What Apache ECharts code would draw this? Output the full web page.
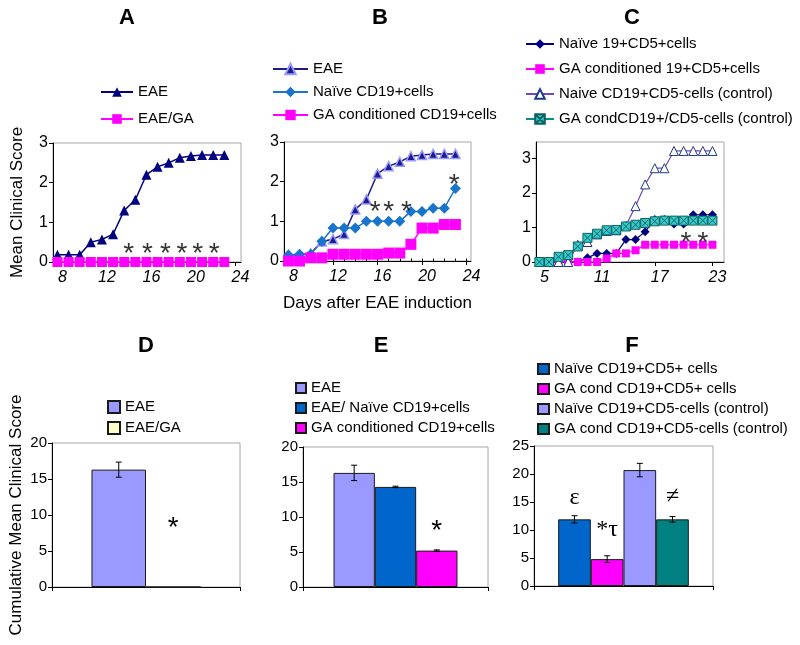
<!DOCTYPE html>
<html><head><meta charset="utf-8">
<script src="https://cdn.jsdelivr.net/npm/echarts@6/dist/echarts.min.js"></script>
<style>html,body{margin:0;padding:0;background:#fff}#c{width:800px;height:645px}</style>
</head><body><div id="c"></div>
<script>
const FONT = '"Liberation Sans", Arial, Helvetica, sans-serif';
const SERIF = '"Liberation Serif", "Times New Roman", serif';

// ---- Panel A ----
const daysA = [8,9,10,11,12,13,14,15,16,17,18,19,20,21,22,23];
const eaeA = [0.18,0.18,0.18,0.5,0.57,0.7,1.3,1.57,2.2,2.4,2.5,2.63,2.67,2.7,2.7,2.7];
const eaeGaA = [0,0,0,0,0,0,0,0,0,0,0,0,0,0,0,0];
const starsA = [[14.4,0.38],[16.1,0.38],[17.7,0.38],[19.2,0.38],[20.6,0.38],[22.1,0.38]];
const xTicksA = [8,12,16,20,24];
const yTicksLine = [0,1,2,3];

// ---- Panel B ----
const daysB = [8,9,10,11,12,13,14,15,16,17,18,19,20,21,22,23];
const eaeB = [0.15,0.15,0.19,0.49,0.55,0.68,1.3,1.55,2.2,2.39,2.5,2.64,2.67,2.7,2.7,2.7];
const naiveB = [0.15,0.17,0.17,0.5,0.83,0.83,0.83,1.0,1.0,1.0,1.0,1.25,1.25,1.33,1.33,1.83];
const gaB = [0,0,0.08,0.08,0.17,0.17,0.17,0.17,0.17,0.2,0.2,0.42,0.83,0.83,0.92,0.92];
const starsB = [[15.8,1.4],[17.0,1.4],[18.6,1.4],[22.9,2.08]];
const xTicksB = [8,12,16,20,24];
const xMinorB = [8,9,10,11,12,13,14,15,16,17,18,19,20,21,22,23,24];

// ---- Panel C ----
const daysC = [5,6,7,8,9,10,11,12,13,14,15,16,17,18,19,20,21,22,23];
const naivePosC = [0,0,0,0,0,0.12,0.25,0.25,0.25,0.65,0.65,0.88,1.23,1.23,1.1,1.1,1.37,1.37,1.37];
const gaPosC = [0,0,0,0,0,0,0,0.1,0.25,0.25,0.34,0.5,0.5,0.5,0.5,0.5,0.5,0.5,0.5];
const naiveNegC = [0,0,0,0,0.5,0.58,0.8,0.9,0.92,1.05,1.62,2.25,2.72,2.72,3.22,3.22,3.22,3.22,3.22];
const gaNegC = [0,0,0.15,0.2,0.45,0.7,0.82,0.92,0.93,1.03,1.08,1.13,1.18,1.2,1.2,1.2,1.2,1.2,1.2];
const starsC = [[20.25,0.75],[22.0,0.75]];
const xTicksC = [5,11,17,23];

// ---- Panel D ----
const namesD = ['EAE','EAE/GA'];
const valsD = [16.3,0];
const errD = [1.05,0];
const annotD = [{bar:1, y:8.2, text:'*'}];

// ---- Panel E ----
const namesE = ['EAE','EAE/ Naïve CD19+cells','GA conditioned CD19+cells'];
const valsE = [16.3,14.3,5.2];
const errE = [1.1,0.1,0.1];
const annotE = [{bar:2, y:7.9, text:'*'}];

// ---- Panel F ----
const namesF = ['Naïve CD19+CD5+ cells','GA cond CD19+CD5+ cells','Naïve CD19+CD5-cells (control)','GA cond CD19+CD5-cells (control)'];
const valsF = [11.9,4.8,20.7,11.9];
const errF = [0.65,0.6,1.2,0.5];
const annotF = [{bar:0, y:15.7, text:'ε'},{bar:1, y:10.0, text:'*τ'},{bar:3, y:16.0, text:'≠'}];

const yTicksBarDE = [0,5,10,15,20];
const yTicksBarF = [0,5,10,15,20,25];

const chart = echarts.init(document.getElementById('c'), null, {renderer:'canvas'});

function pairs(xs, ys){ return xs.map((x,i)=>[x, ys[i]]); }
const strip = n => n.slice(2);

function lineX(grid, min, max, ticks){
  return {type:'value', gridIndex:grid, min, max,
    axisLine:{show:true, onZero:false, lineStyle:{color:'#000', width:1}},
    axisTick:{show:true, length:4, customValues:ticks, lineStyle:{color:'#000'}},
    axisLabel:{customValues:ticks, fontSize:16, fontStyle:'italic', color:'#000', margin:8, fontFamily:FONT, padding:[0,0,0,10]},
    splitLine:{show:false}};
}
function valY(grid, min, max, ticks, fs, name){
  const o = {type:'value', gridIndex:grid, min, max,
    axisLine:{show:true, onZero:false, lineStyle:{color:'#000', width:1}},
    axisTick:{show:true, length:4, customValues:ticks, lineStyle:{color:'#000'}},
    axisLabel:{customValues:ticks, fontSize:fs, color:'#000', margin:5, fontFamily:FONT},
    splitLine:{show:false}};
  if (name){ o.name = name; o.nameLocation='middle'; o.nameGap = 27;
    o.nameTextStyle = {fontSize:17, color:'#000', fontFamily:FONT}; }
  return o;
}
function catX(grid){
  return {type:'category', gridIndex:grid, data:[''],
    axisLine:{show:true, lineStyle:{color:'#000'}},
    axisTick:{show:true, length:4, lineStyle:{color:'#000'}},
    axisLabel:{show:false}, splitLine:{show:false}};
}
function lineSeries(name, xi, yi, xs, ys, color, symbol, size, itemStyle, lw){
  return {type:'line', name, xAxisIndex:xi, yAxisIndex:yi, data:pairs(xs, ys),
    symbol, symbolSize:size, showAllSymbol:true, clip:false,
    lineStyle:{color, width:lw||1.5}, itemStyle:Object.assign({color}, itemStyle||{})};
}
function starSeries(xi, yi, data){
  return {type:'scatter', xAxisIndex:xi, yAxisIndex:yi, data, symbolSize:1, silent:true,
    itemStyle:{color:'rgba(0,0,0,0)'}, z:10,
    label:{show:true, formatter:'*', position:'inside', fontSize:28, color:'#000', offset:[0,7], fontFamily:FONT}};
}
function barSeries(prefix, xi, yi, names, vals, colors, gap){
  return names.map((n,k)=>({type:'bar', name:prefix+'|'+n, xAxisIndex:xi, yAxisIndex:yi,
    data:[vals[k]], barGap:'0%', barCategoryGap:(gap*100)+'%',
    itemStyle:{color:colors[k], borderColor:'#1a1a1a', borderWidth:1}}));
}
function barGeom(api, n, gap, k){
  const band = api.size([1,0])[0];
  const avail = band*(1-gap);
  const w = avail/n;
  const cx = api.coord([0,0])[0];
  return cx - avail/2 + w*(k+0.5);
}
function errSeries(xi, yi, vals, errs, gap){
  const n = vals.length;
  return {type:'custom', xAxisIndex:xi, yAxisIndex:yi, silent:true, z:6,
    data: vals.map((v,k)=>[0, v, errs[k], k]),
    renderItem:(params, api)=>{
      const v = api.value(1), e = api.value(2), k = api.value(3);
      if (!e) return null;
      const x = barGeom(api, n, gap, k);
      const yt = api.coord([0, v+e])[1], yb = api.coord([0, v-e])[1];
      const st = {stroke:'#000', lineWidth:1};
      return {type:'group', children:[
        {type:'line', shape:{x1:x, y1:yt, x2:x, y2:yb}, style:st},
        {type:'line', shape:{x1:x-3, y1:yt, x2:x+3, y2:yt}, style:st},
        {type:'line', shape:{x1:x-3, y1:yb, x2:x+3, y2:yb}, style:st}]};
    }};
}
function annotSeries(xi, yi, n, gap, annots, font){
  return {type:'custom', xAxisIndex:xi, yAxisIndex:yi, silent:true, z:7,
    data: annots.map(a=>[0, a.y, a.bar]),
    renderItem:(params, api)=>{
      const a = annots[params.dataIndex];
      const x = barGeom(api, n, gap, api.value(2));
      const y = api.coord([0, api.value(1)])[1];
      return {type:'text', x, y, style:{text:a.text, font, fill:'#000', textAlign:'center', textVerticalAlign:'middle'}};
    }};
}

const gapD = 0.42, gapE = 0.33, gapF = 0.27;
const boxStyle = {show:true, borderColor:'#a6a6a6', borderWidth:1, backgroundColor:'#fff'};

const legendText = {fontSize:15, lineHeight:16, color:'#000', fontFamily:FONT};
function legend(left, top, data, iw, ih, gap, icon){
  const o = {orient:'vertical', left, top, data, itemWidth:iw, itemHeight:ih, itemGap:gap,
    formatter:strip, textStyle:legendText, selectedMode:false, padding:0};
  if (icon) o.icon = icon;
  return o;
}

const option = {
  animation:false,
  textStyle:{fontFamily:FONT},
  grid:[
    Object.assign({left:53, top:143, width:188, height:119}, boxStyle),
    Object.assign({left:284, top:142, width:187, height:119}, boxStyle),
    Object.assign({left:536, top:142, width:188, height:120}, boxStyle),
    Object.assign({left:52, top:443, width:188, height:144}, boxStyle),
    Object.assign({left:303, top:447, width:185, height:140}, boxStyle),
    Object.assign({left:534, top:446, width:179, height:140}, boxStyle)
  ],
  xAxis:[
    lineX(0, 7.6, 24.5, xTicksA),
    Object.assign(lineX(1, 7.6, 24.4, xTicksB), {name:'Days after EAE induction', nameLocation:'middle', nameGap:34,
      nameTextStyle:{fontSize:17, color:'#000', fontFamily:FONT}}),
    {type:'value', gridIndex:1, min:7.6, max:24.4, axisLine:{show:false},
      axisTick:{show:true, length:2.5, customValues:xMinorB, lineStyle:{color:'#000'}},
      axisLabel:{show:false}, splitLine:{show:false}},
    lineX(2, 4.65, 24.2, xTicksC),
    catX(3), catX(4), catX(5)
  ],
  yAxis:[
    valY(0, 0, 3, yTicksLine, 16, 'Mean Clinical Score'),
    valY(1, 0, 3, yTicksLine, 16),
    valY(2, 0, 3.48, yTicksLine, 16),
    valY(3, 0, 20, yTicksBarDE, 15, 'Cumulative Mean Clinical Score'),
    valY(4, 0, 20, yTicksBarDE, 15),
    valY(5, 0, 25, yTicksBarF, 15)
  ],
  legend:[
    legend(100, 84, ['A|EAE','A|EAE/GA'], 32, 12, 11),
    legend(272, 61, ['B|EAE','B|Naïve CD19+cells','B|GA conditioned CD19+cells'], 35, 13, 7),
    legend(525, 36, ['C|Naïve 19+CD5+cells','C|GA conditioned 19+CD5+cells','C|Naive CD19+CD5-cells (control)','C|GA condCD19+/CD5-cells (control)'], 28, 12, 9),
    legend(107, 399, namesD.map(n=>'D|'+n), 12, 12, 5, 'rect'),
    legend(295, 380, namesE.map(n=>'E|'+n), 10, 10, 4, 'rect'),
    legend(537, 361, namesF.map(n=>'F|'+n), 11, 10, 4, 'rect')
  ],
  series:[
    lineSeries('A|EAE', 0, 0, daysA, eaeA, '#000080', 'triangle', 10),
    lineSeries('A|EAE/GA', 0, 0, daysA, eaeGaA, '#ff00ff', 'rect', 10),
    starSeries(0, 0, starsA),

    lineSeries('B|EAE', 1, 1, daysB, eaeB, '#1c1c8a', 'triangle', 9, {borderColor:'#9999ff', borderWidth:1.5}),
    lineSeries('B|Naïve CD19+cells', 1, 1, daysB, naiveB, '#1874cd', 'diamond', 11),
    lineSeries('B|GA conditioned CD19+cells', 1, 1, daysB, gaB, '#ff00ff', 'rect', 11),
    starSeries(1, 1, starsB),

    lineSeries('C|Naïve 19+CD5+cells', 3, 2, daysC, naivePosC, '#000080', 'diamond', 9, null, 1.2),
    lineSeries('C|GA conditioned 19+CD5+cells', 3, 2, daysC, gaPosC, '#ff00ff', 'rect', 8, null, 1.2),
    Object.assign(lineSeries('C|Naive CD19+CD5-cells (control)', 3, 2, daysC, naiveNegC, '#7048b8', 'triangle', 9, null, 1.2),
      {itemStyle:{color:'#ffffff', borderColor:'#1f3a8a', borderWidth:1}}),
    Object.assign(lineSeries('C|GA condCD19+/CD5-cells (control)', 3, 2, daysC, gaNegC, '#009090', 'path://M0,0H10V10H0Z M1,1L9,9 M9,1L1,9', 9, null, 1.2),
      {itemStyle:{color:'#33cccc', borderColor:'#106060', borderWidth:1}}),
    starSeries(3, 2, starsC),

    ...barSeries('D', 4, 3, namesD, valsD, ['#9999ff','#ffffcc'], gapD),
    errSeries(4, 3, valsD, errD, gapD),
    annotSeries(4, 3, valsD.length, gapD, annotD, '28px '+FONT),

    ...barSeries('E', 5, 4, namesE, valsE, ['#9999ff','#0066cc','#ff00ff'], gapE),
    errSeries(5, 4, valsE, errE, gapE),
    annotSeries(5, 4, valsE.length, gapE, annotE, '28px '+FONT),

    ...barSeries('F', 6, 5, namesF, valsF, ['#0066cc','#ff00ff','#9999ff','#008080'], gapF),
    errSeries(6, 5, valsF, errF, gapF),
    annotSeries(6, 5, valsF.length, gapF, annotF, '24px '+SERIF)
  ],
  graphic:[
    {type:'text', x:127, y:18, style:{text:'A', font:'bold 22px '+FONT, fill:'#000', textAlign:'center', textVerticalAlign:'middle'}},
    {type:'text', x:380, y:18, style:{text:'B', font:'bold 22px '+FONT, fill:'#000', textAlign:'center', textVerticalAlign:'middle'}},
    {type:'text', x:632, y:18, style:{text:'C', font:'bold 22px '+FONT, fill:'#000', textAlign:'center', textVerticalAlign:'middle'}},
    {type:'text', x:146, y:346, style:{text:'D', font:'bold 22px '+FONT, fill:'#000', textAlign:'center', textVerticalAlign:'middle'}},
    {type:'text', x:381, y:346, style:{text:'E', font:'bold 22px '+FONT, fill:'#000', textAlign:'center', textVerticalAlign:'middle'}},
    {type:'text', x:632, y:346, style:{text:'F', font:'bold 22px '+FONT, fill:'#000', textAlign:'center', textVerticalAlign:'middle'}}
  ]
};
chart.setOption(option);
</script></body></html>
